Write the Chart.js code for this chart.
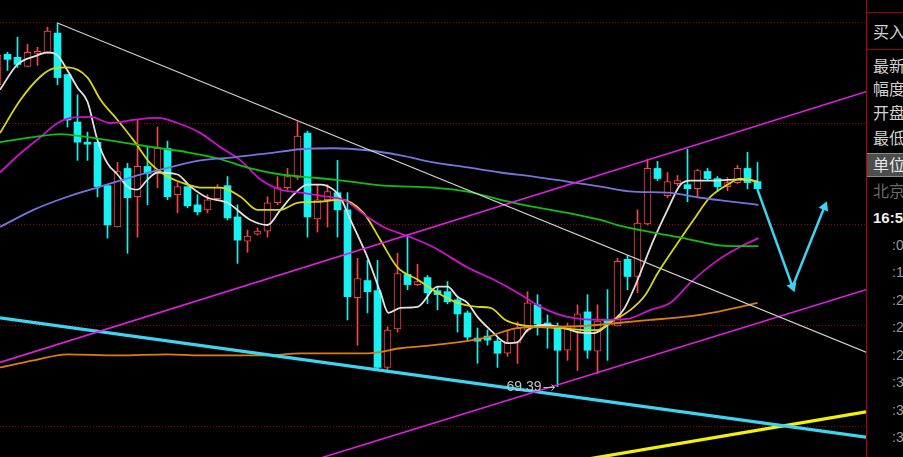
<!DOCTYPE html>
<html>
<head>
<meta charset="utf-8">
<script src="https://cdn.jsdelivr.net/npm/chart.js@4/dist/chart.umd.min.js"></script>
<style>
  html, body { margin: 0; padding: 0; background: #000; }
  #wrap { position: relative; width: 903px; height: 457px; overflow: hidden; background: #000; }
  #chart { position: absolute; left: 0; top: 0; }
  #panel { position: absolute; left: 866px; top: 0; width: 37px; height: 457px;
    border-left: 1px solid #b80000; overflow: hidden;
    font-family: "Noto Sans CJK SC", sans-serif; font-size: 16px; color: #d2d2d2; }
  #panel div { position: absolute; left: 6px; line-height: 16px; white-space: nowrap; }
  #panel .rule { left: 0; width: 40px; height: 0; border-top: 1px solid #a00000; }
  #panel .box { left: 0; width: 40px; height: 22px; top: 153px; background: #4d4d4d; border-top: 1px solid #8a8a8a; border-bottom: 1px solid #8a8a8a; }
  #panel .dim { color: #6a6a6a; }
  #panel .clock { font-family: "Liberation Sans", Arial, sans-serif; font-weight: bold; font-size: 15px; color: #f0f0f0; }
  #panel .time { left: 25px; font-family: "Liberation Sans", Arial, sans-serif; font-size: 14px; color: #9a9a9a; }
</style>
</head>
<body>
<div id="wrap">
  <canvas id="chart" width="866" height="457"></canvas>
  <div id="panel">
    <div class="rule" style="top:12px"></div>
    <div style="top:23px">买入</div>
    <div class="rule" style="top:49px"></div>
    <div style="top:57px">最新</div>
    <div style="top:80px">幅度</div>
    <div style="top:104px">开盘</div>
    <div style="top:129px">最低</div>
    <div class="box"></div>
    <div style="top:156px;color:#e6e6e6">单位</div>
    <div class="dim" style="top:182px">北京</div>
    <div class="clock" style="top:210px">16:5</div>
    <div class="time" style="top:237px">:0</div>
    <div class="time" style="top:264px">:1</div>
    <div class="time" style="top:292px">:2</div>
    <div class="time" style="top:319px">:2</div>
    <div class="time" style="top:347px">:2</div>
    <div class="time" style="top:374px">:3</div>
    <div class="time" style="top:402px">:3</div>
    <div class="time" style="top:429px">:3</div>
  </div>
</div>
<script>
// daily candles, first one is the partly hidden bar at the left edge
const firstSession = -1;
const openPrices = [72.38, 72.68, 72.65, 72.56, 72.69, 72.69, 72.89, 72.48, 72.01, 71.81,
  71.81, 71.38, 70.97, 71.55, 71.27, 71.57, 71.52, 71.75, 71.29, 71.37,
  71.19, 71.14, 71.25, 71.38, 71.07, 70.83, 70.90, 70.93, 71.21, 71.36,
  71.46, 71.90, 71.05, 71.24, 71.31, 71.14, 70.27, 70.44, 70.34, 69.58,
  69.96, 70.50, 70.40, 70.47, 70.34, 70.33, 70.25, 70.12, 69.87, 69.89,
  69.84, 69.72, 69.82, 69.95, 70.20, 70.02, 69.99, 69.75, 69.93, 70.13,
  69.74, 70.05, 69.99, 70.65, 70.48, 71.00, 71.55, 71.28, 71.40, 71.39,
  71.35, 71.52, 71.45, 71.37, 71.41, 71.55, 71.42];
const highPrices = [72.72, 72.70, 72.85, 72.78, 72.75, 72.95, 72.99, 72.48, 72.28, 71.91,
  71.81, 71.38, 71.61, 71.60, 72.03, 71.76, 71.96, 71.82, 71.41, 71.37,
  71.29, 71.29, 71.39, 71.47, 71.19, 70.94, 70.96, 71.27, 71.47, 71.55,
  72.01, 71.92, 71.39, 71.39, 71.63, 71.31, 70.66, 70.64, 70.64, 69.98,
  70.71, 70.89, 70.60, 70.49, 70.38, 70.43, 70.27, 70.14, 69.97, 69.95,
  69.87, 69.95, 70.03, 70.33, 70.30, 70.10, 70.02, 70.02, 70.20, 70.30,
  70.20, 70.35, 70.66, 70.69, 71.14, 71.64, 71.62, 71.51, 71.48, 71.74,
  71.54, 71.55, 71.47, 71.46, 71.58, 71.71, 71.61];
const lowPrices = [72.33, 72.52, 72.55, 72.56, 72.57, 72.69, 72.38, 71.96, 71.63, 71.63,
  71.27, 70.86, 70.97, 70.71, 70.87, 71.19, 71.36, 71.24, 71.11, 71.16,
  71.09, 71.11, 71.24, 71.04, 70.61, 70.72, 70.89, 70.87, 71.19, 71.34,
  71.44, 70.87, 70.92, 70.97, 70.87, 70.05, 69.80, 70.12, 69.56, 69.53,
  69.93, 70.35, 70.39, 70.21, 70.15, 70.21, 69.93, 69.85, 69.62, 69.80,
  69.58, 69.69, 69.62, 69.93, 69.90, 69.77, 69.39, 69.65, 69.55, 69.67,
  69.52, 69.65, 69.99, 70.35, 70.32, 70.99, 71.43, 71.26, 71.38, 71.22,
  71.26, 71.43, 71.32, 71.33, 71.40, 71.35, 71.34];
const closePrices = [72.67, 72.63, 72.58, 72.70, 72.71, 72.91, 72.45, 72.03, 71.81, 71.79,
  71.37, 70.99, 71.52, 71.26, 71.57, 71.50, 71.75, 71.27, 71.37, 71.18,
  71.12, 71.24, 71.36, 71.06, 70.84, 70.88, 70.93, 71.21, 71.36, 71.47,
  71.87, 71.07, 71.24, 71.32, 71.14, 70.28, 70.46, 70.33, 69.58, 69.95,
  70.51, 70.40, 70.43, 70.32, 70.30, 70.23, 70.11, 69.88, 69.84, 69.85,
  69.72, 69.82, 69.97, 70.22, 70.01, 69.98, 69.75, 69.99, 70.11, 69.75,
  70.04, 70.02, 70.63, 70.48, 71.01, 71.55, 71.45, 71.42, 71.43, 71.35,
  71.53, 71.45, 71.37, 71.41, 71.55, 71.41, 71.35];

// moving averages as [session, price]
const ma5 = [[-0.75, 72.33], [1, 72.58], [3, 72.67], [4, 72.70], [5, 72.67], [6, 72.52], [7, 72.35],
  [8, 72.21], [9, 71.83], [10, 71.60], [11, 71.49], [12, 71.37], [13, 71.34], [14, 71.44],
  [15, 71.51], [17, 71.49], [18.3, 71.37], [20, 71.26], [22, 71.21], [24.3, 71.04], [26, 70.99],
  [27.3, 71.14], [28.6, 71.29], [30, 71.39], [31.3, 71.39], [32.6, 71.34], [33.3, 71.26],
  [34.3, 71.04], [36, 70.67], [37.3, 70.32], [38.1, 70.12], [39.3, 70.17], [41, 70.18],
  [43, 70.38], [44, 70.38], [45, 70.28], [46, 70.22], [47, 70.08], [48.3, 69.95], [50, 69.82],
  [51, 69.83], [52, 69.95], [53.6, 70.00], [55.3, 69.98], [57, 69.93], [58.6, 69.92], [60, 70.00],
  [61.6, 70.15], [62.6, 70.35], [64.6, 70.84], [66, 71.14], [67.3, 71.39], [68.3, 71.43],
  [70.6, 71.43], [72.6, 71.44], [74, 71.44], [75, 71.42]];
const ma10 = [[-0.75, 71.90], [1.3, 72.23], [3.3, 72.46], [4.6, 72.54], [6, 72.55], [8, 72.45],
  [9.3, 72.23], [11, 72.03], [12.6, 71.83], [14.3, 71.60], [16, 71.47], [18, 71.39], [19.3, 71.36],
  [21.3, 71.36], [23.3, 71.27], [25, 71.14], [27.3, 71.14], [29, 71.21], [31, 71.22], [33.3, 71.24],
  [35.6, 71.11], [37.3, 70.84], [39, 70.57], [41, 70.45], [43, 70.32], [45, 70.22], [47, 70.18],
  [48.3, 70.17], [49.8, 70.05], [51.3, 70.00], [53.3, 69.98], [55.3, 69.97], [57.6, 69.95],
  [59, 69.95], [60.3, 70.03], [62.3, 70.15], [63.8, 70.30], [65, 70.51], [67, 70.81], [68.6, 71.04],
  [70.3, 71.27], [72, 71.39], [73.3, 71.45], [75, 71.42]];
const ma20 = [[-0.75, 71.51], [1.3, 71.70], [3.3, 71.86], [5, 72.00], [6.3, 72.05], [8.3, 72.06],
  [10.3, 72.00], [12.6, 72.03], [15, 72.05], [17, 72.00], [19.3, 71.90], [21.3, 71.76], [23.3, 71.63],
  [25.3, 71.44], [27.3, 71.34], [29.3, 71.31], [32, 71.27], [33.6, 71.24], [36, 71.07], [37.6, 70.97],
  [40.3, 70.87], [42.6, 70.77], [46, 70.57], [48.6, 70.45], [51, 70.32], [53.3, 70.18], [56, 70.08],
  [59.3, 70.05], [62, 70.06], [64.3, 70.15], [66.3, 70.22], [68.3, 70.42], [71, 70.64], [73, 70.76],
  [75.1, 70.86]];
const ma60 = [[-0.75, 71.81], [2.6, 71.86], [5.3, 71.89], [8, 71.86], [11.3, 71.81], [14.6, 71.76],
  [18, 71.71], [21, 71.65], [24.3, 71.55], [27.3, 71.49], [29.3, 71.47], [32.6, 71.44], [37.6, 71.38],
  [42.6, 71.36], [46, 71.32], [49.3, 71.24], [52.6, 71.17], [56, 71.11], [59.3, 71.04], [61, 70.99],
  [64.3, 70.92], [67.6, 70.86], [71, 70.79], [73, 70.78], [75.1, 70.78]];
const ma120 = [[-0.75, 70.97], [2.6, 71.14], [6, 71.27], [9.3, 71.37], [12.6, 71.47], [15, 71.53],
  [19.3, 71.63], [22.6, 71.66], [26, 71.70], [29.3, 71.74], [32.6, 71.75], [36, 71.73], [39.3, 71.68],
  [42.6, 71.61], [46, 71.56], [49.3, 71.51], [52.6, 71.47], [56, 71.42], [59.3, 71.37], [62.6, 71.32],
  [66, 71.31], [69.3, 71.26], [72.6, 71.22], [75.1, 71.19]];
const ma250 = [[-0.75, 69.58], [2.6, 69.65], [6, 69.71], [11, 69.70], [16, 69.71], [19.3, 69.70],
  [26, 69.70], [29.3, 69.72], [36, 69.72], [39.3, 69.77], [42.6, 69.80], [47.6, 69.87], [51, 69.97],
  [54.3, 69.98], [57.6, 69.99], [61, 70.02], [64.3, 70.05], [67.6, 70.08], [71, 70.13], [73.3, 70.18],
  [75, 70.22]];

// hand drawn lines on the chart
const falling = [[5, 72.99], [85.85, 69.73]];
const channelTop = [[-0.75, 69.63], [85.85, 72.31]];
const channelBottom = [[29.25, 68.62], [85.85, 70.35]];
const supportCyan = [[-0.75, 70.07], [85.85, 68.89]];
const supportYellow = [[57.25, 68.66], [85.85, 69.14]];
const forecastArrow = [[75, 71.34], [78.5, 70.38], [81.7, 71.17]];

const gridLevels = [73, 72, 71, 70, 69];

const upColor = "#f04848";
const downColor = "#16f2f2";

const sessions = openPrices.map((_, k) => firstSession + k);
const rising = closePrices.map((c, k) => c > openPrices[k]);
const candleColors = rising.map((r) => (r ? upColor : downColor));

const pts = (list) => list.map(([x, y]) => ({ x, y }));

function maLine(list, color) {
  return {
    type: "line",
    data: pts(list),
    borderColor: color,
    borderWidth: 1.8,
    pointRadius: 0,
    cubicInterpolationMode: "monotone",
    fill: false,
    order: 2,
  };
}

function drawnLine(list, color, width) {
  return {
    type: "line",
    data: pts(list),
    borderColor: color,
    borderWidth: width,
    pointRadius: 0,
    tension: 0,
    fill: false,
    order: 1,
  };
}

const gridPlugin = {
  id: "dottedGrid",
  beforeDatasetsDraw(chart) {
    const { ctx, chartArea, scales } = chart;
    ctx.save();
    ctx.strokeStyle = "#9a0000";
    ctx.lineWidth = 1;
    ctx.setLineDash([1, 2]);
    gridLevels.forEach((v) => {
      const y = Math.round(scales.y.getPixelForValue(v)) + 0.5;
      ctx.beginPath();
      ctx.moveTo(chartArea.left, y);
      ctx.lineTo(chartArea.right, y);
      ctx.stroke();
    });
    ctx.restore();
  },
};

const lowLabelPlugin = {
  id: "lowLabel",
  afterDatasetsDraw(chart) {
    const { ctx, scales } = chart;
    const low = Math.min(...lowPrices);
    const k = lowPrices.indexOf(low);
    const px = scales.x.getPixelForValue(sessions[k]);
    const py = Math.round(scales.y.getPixelForValue(low));
    ctx.save();
    ctx.fillStyle = "#c4c4c4";
    ctx.strokeStyle = "#c4c4c4";
    ctx.font = "14px 'Liberation Sans', Arial, sans-serif";
    ctx.textAlign = "right";
    ctx.textBaseline = "middle";
    ctx.fillText(low.toFixed(2), px - 16, py);
    ctx.lineWidth = 1;
    ctx.beginPath();
    ctx.moveTo(px - 14, py + 0.5);
    ctx.lineTo(px - 3, py + 0.5);
    ctx.moveTo(px - 6, py - 2.5);
    ctx.lineTo(px - 3, py + 0.5);
    ctx.lineTo(px - 6, py + 3.5);
    ctx.stroke();
    ctx.restore();
  },
};

new Chart(document.getElementById("chart"), {
  type: "bar",
  data: {
    datasets: [
      {
        type: "bar",
        data: sessions.map((s, k) => ({ x: s, y: [lowPrices[k], highPrices[k]] })),
        backgroundColor: candleColors,
        borderWidth: 0,
        barThickness: 1,
        grouped: false,
        order: 4,
      },
      {
        type: "bar",
        data: sessions.map((s, k) => ({ x: s, y: [openPrices[k], closePrices[k]] })),
        backgroundColor: rising.map((r) => (r ? "#000000" : downColor)),
        borderColor: candleColors,
        borderWidth: rising.map((r) => (r ? 1 : 0)),
        borderSkipped: false,
        barThickness: 7,
        grouped: false,
        order: 3,
      },
      maLine(ma250, "#dc7d10"),
      maLine(ma120, "#7474e0"),
      maLine(ma60, "#10c010"),
      maLine(ma20, "#d010d0"),
      maLine(ma10, "#d8d810"),
      maLine(ma5, "#e2e2e2"),
      drawnLine(falling, "#cfcfcf", 1.2),
      drawnLine(channelTop, "#e020e0", 1.6),
      drawnLine(channelBottom, "#e020e0", 1.6),
      drawnLine(supportCyan, "#3cd4f0", 3.2),
      drawnLine(supportYellow, "#f2f200", 3.2),
      {
        type: "line",
        data: pts(forecastArrow),
        borderColor: "#3cd4f0",
        borderWidth: 2.5,
        tension: 0,
        fill: false,
        pointStyle: "triangle",
        pointRadius: [0, 6, 6],
        pointRotation: [0, 160, 22],
        pointBackgroundColor: "#3cd4f0",
        pointBorderColor: "#3cd4f0",
        pointBorderWidth: 0,
        order: 0,
      },
    ],
  },
  options: {
    responsive: false,
    animation: false,
    devicePixelRatio: 1,
    layout: { padding: 0, autoPadding: false },
    plugins: { legend: { display: false }, tooltip: { enabled: false } },
    scales: {
      x: { type: "linear", display: false, offset: false, min: -0.75, max: 85.85 },
      y: { type: "linear", display: false, min: 68.6931, max: 73.2178 },
    },
  },
  plugins: [gridPlugin, lowLabelPlugin],
});
</script>
</body>
</html>
